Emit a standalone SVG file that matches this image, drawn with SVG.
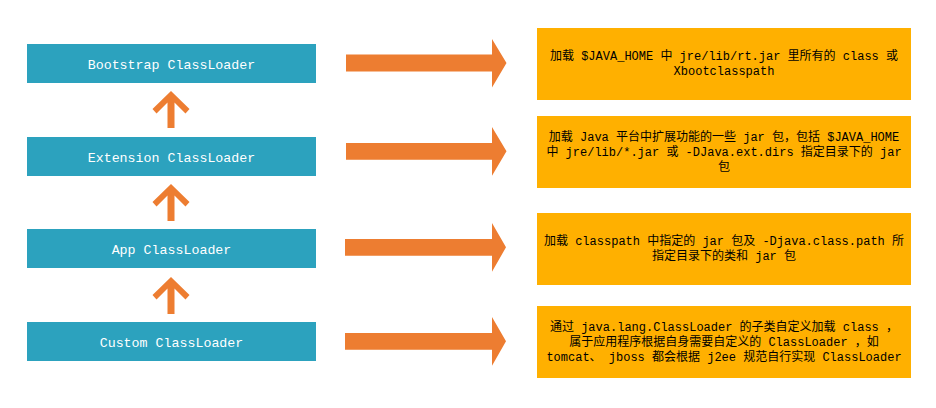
<svg xmlns="http://www.w3.org/2000/svg" width="936" height="408" viewBox="0 0 936 408">
<style>
.loader{fill:#2CA2BE}
.loader-t{fill:#FFFFFF;font-family:"Liberation Mono","Noto Sans CJK SC",monospace;font-size:13.3px;text-anchor:middle}
.desc{fill:#FFB000}
.desc-t{fill:#000000;font-family:"Liberation Mono","Noto Sans CJK SC",monospace;font-size:12px;text-anchor:middle}
.arr{fill:#ED7D31}
</style>
<rect width="936" height="408" fill="#FFFFFF"/>
<g id="connectors">
<polygon class="arr" points="171,91 189.5,109 185.5,113.5 174.5,102.5 174.5,128 167.5,128 167.5,102.5 156.5,113.5 152.5,109"/>
<polygon class="arr" points="171,184 189.5,202 185.5,206.5 174.5,195.5 174.5,221 167.5,221 167.5,195.5 156.5,206.5 152.5,202"/>
<polygon class="arr" points="171,277 189.5,295 185.5,299.5 174.5,288.5 174.5,314 167.5,314 167.5,288.5 156.5,299.5 152.5,295"/>
<polygon class="arr" points="346,54.5 492,54.5 492,39 506.5,63 492,87.5 492,71.5 346,71.5"/>
<polygon class="arr" points="346,143 492,143 492,127 506.5,151.3 492,175.7 492,159.7 346,159.7"/>
<polygon class="arr" points="345,239 492,239 492,223 506,247.3 492,271.7 492,255.7 345,255.7"/>
<polygon class="arr" points="345,333 492,333 492,317 506,341.3 492,365.7 492,349.7 345,349.7"/>
</g>
<g id="bootstrap">
<rect class="loader" x="27" y="44" width="289" height="39"/>
<text class="loader-t" x="171.5" y="68.5">Bootstrap ClassLoader</text>
</g>
<g id="extension">
<rect class="loader" x="27" y="137" width="289" height="39"/>
<text class="loader-t" x="171.5" y="161.5">Extension ClassLoader</text>
</g>
<g id="app">
<rect class="loader" x="27" y="229" width="289" height="39"/>
<text class="loader-t" x="171.5" y="253.5">App ClassLoader</text>
</g>
<g id="custom">
<rect class="loader" x="27" y="322" width="289" height="39"/>
<text class="loader-t" x="171.5" y="346.5">Custom ClassLoader</text>
</g>
<g id="desc-bootstrap">
<rect class="desc" x="537" y="28" width="374" height="72"/>
<text class="desc-t" x="724" y="59.5">加载 $JAVA_HOME 中 jre/lib/rt.jar 里所有的 class 或</text>
<text class="desc-t" x="724" y="74.5">Xbootclasspath</text>
</g>
<g id="desc-extension">
<rect class="desc" x="537" y="116" width="374" height="72"/>
<text class="desc-t" x="724" y="141">加载 Java 平台中扩展功能的一些 jar 包，包括 $JAVA_HOME</text>
<text class="desc-t" x="724" y="156">中 jre/lib/*.jar 或 -DJava.ext.dirs 指定目录下的 jar</text>
<text class="desc-t" x="724" y="171">包</text>
</g>
<g id="desc-app">
<rect class="desc" x="537" y="213" width="374" height="72"/>
<text class="desc-t" x="724" y="245">加载 classpath 中指定的 jar 包及 -Djava.class.path 所</text>
<text class="desc-t" x="724" y="260">指定目录下的类和 jar 包</text>
</g>
<g id="desc-custom">
<rect class="desc" x="537" y="306" width="374" height="72"/>
<text class="desc-t" x="724" y="331">通过 java.lang.ClassLoader 的子类自定义加载 class ，</text>
<text class="desc-t" x="724" y="346">属于应用程序根据自身需要自定义的 ClassLoader ，如</text>
<text class="desc-t" x="724" y="361">tomcat、 jboss 都会根据 j2ee 规范自行实现 ClassLoader</text>
</g>
</svg>
